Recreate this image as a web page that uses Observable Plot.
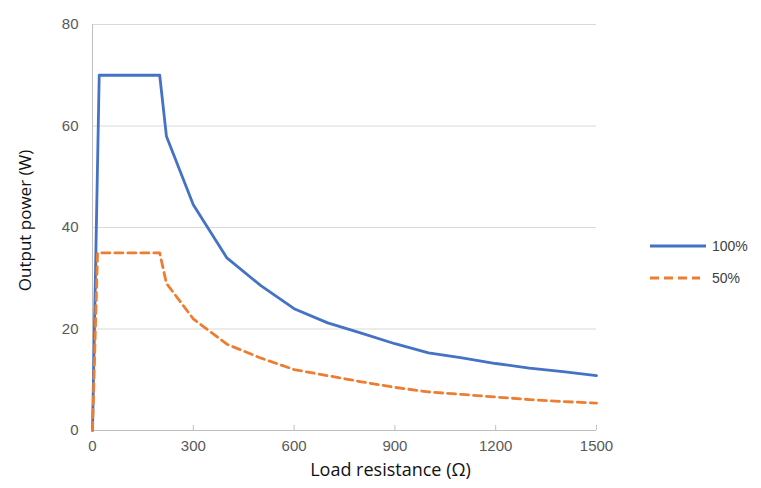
<!DOCTYPE html>
<html>
<head>
<meta charset="utf-8">
<script src="https://cdn.jsdelivr.net/npm/d3@7"></script>
<script src="https://cdn.jsdelivr.net/npm/@observablehq/plot@0.6"></script>
<style>
  body { margin: 0; background: #fff; }
  #wrap { position: relative; width: 761px; height: 488px; }
  #legend { position: absolute; left: 648px; top: 230px; font-family: "Liberation Sans", Arial, sans-serif; font-size: 14px; color: #404040; }
  #legend .row { display: flex; align-items: center; height: 32px; }
  #legend svg { margin-right: 4px; }
</style>
</head>
<body>
<div id="wrap"></div>
<script>
// Load resistance (Ω)
const resistance100 = [0, 10, 20, 200, 220, 300, 400, 500, 600, 700, 800, 900, 1000, 1100, 1200, 1300, 1400, 1500];
const power100      = [0, 35, 70, 70, 58, 44.5, 34, 28.6, 24, 21.2, 19.2, 17.1, 15.3, 14.3, 13.2, 12.3, 11.6, 10.8];
const resistance50  = [0, 15, 200, 220, 300, 400, 500, 600, 700, 800, 900, 1000, 1100, 1200, 1300, 1400, 1500];
const power50       = [0, 35, 35, 29, 22, 17, 14.3, 12, 10.8, 9.6, 8.5, 7.6, 7.1, 6.6, 6.1, 5.7, 5.4];
const seriesNames = ["100%", "50%"];
const xTicks = [0, 300, 600, 900, 1200, 1500];
const yTicks = [0, 20, 40, 60, 80];
const colors = ["#4472C4", "#ED7D31"];

const d100 = resistance100.map((r, i) => ({r, p: power100[i]}));
const d50 = resistance50.map((r, i) => ({r, p: power50[i]}));

const tickFont = "Liberation Sans, Arial, sans-serif";
const chart = Plot.plot({
  width: 761,
  height: 488,
  marginLeft: 92,
  marginRight: 165,
  marginTop: 24,
  marginBottom: 58,
  style: { fontFamily: tickFont, fontSize: "15px", color: "#595959", background: "#fff" },
  x: { domain: [0, 1500] },
  y: { domain: [0, 80] },
  marks: [
    Plot.ruleY(yTicks.filter(d => d > 0), { stroke: "#d9d9d9", strokeWidth: 1 }),
    Plot.ruleX([0], { stroke: "#bfbfbf" }),
    Plot.ruleY([0], { stroke: "#bfbfbf" }),
    Plot.ruleX(xTicks.slice(1), { y1: 0, y2: 1, stroke: "#bfbfbf" }),
    Plot.axisY({ ticks: yTicks, tickSize: 0, tickPadding: 14, label: null, fontSize: 15 }),
    Plot.axisX({ ticks: xTicks, tickSize: 0, tickPadding: 10, tickFormat: d3.format("d"), label: null, fontSize: 15 }),
    Plot.line(d100, { x: "r", y: "p", stroke: colors[0], strokeWidth: 2.8 }),
    Plot.line(d50, { x: "r", y: "p", stroke: colors[1], strokeWidth: 2.8, strokeDasharray: "8,5" }),
    Plot.text(["Load resistance (Ω)"], { frameAnchor: "bottom", dx: 46, dy: 45, fontSize: 18, fill: "#111", fontFamily: "Open Sans, sans-serif" }),
    Plot.text(["Output power (W)"], { frameAnchor: "left", dx: -67, dy: -7, rotate: -90, textAnchor: "middle", fontSize: 17, fill: "#111", fontFamily: "Open Sans, sans-serif" })
  ]
});
const wrap = document.getElementById("wrap");
wrap.appendChild(chart);

const legend = document.createElement("div");
legend.id = "legend";
seriesNames.forEach((name, i) => {
  const row = document.createElement("div");
  row.className = "row";
  row.innerHTML = `<svg width="60" height="10"><line x1="2" x2="${i === 0 ? 58 : 52}" y1="5" y2="5" stroke="${colors[i]}" stroke-width="3" ${i === 1 ? 'stroke-dasharray="9,5"' : ''}/></svg><span>${name}</span>`;
  legend.appendChild(row);
});
wrap.appendChild(legend);
</script>
</body>
</html>
